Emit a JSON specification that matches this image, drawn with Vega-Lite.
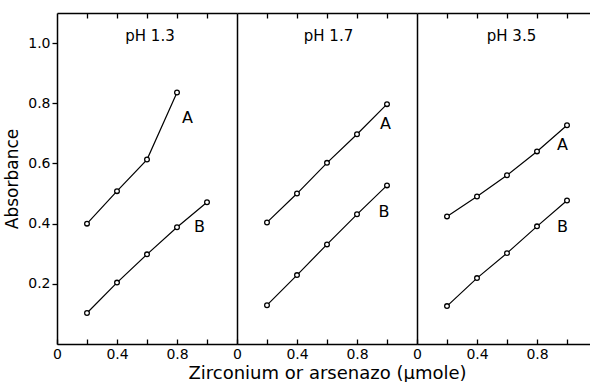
{
  "$schema": "https://vega.github.io/schema/vega-lite/v6.json",
  "background": "white",
  "padding": {"left": 3, "top": 12, "right": 0, "bottom": 0},
  "autosize": {"type": "pad"},
  "spacing": 0,
  "bounds": "flush",
  "resolve": {"scale": {"x": "independent", "y": "independent"}},
  "config": {
    "view": {"stroke": null},
    "font": "DejaVu Sans",
    "axis": {"domainColor": "black", "domainWidth": 1.5, "tickColor": "black", "tickWidth": 1.3, "labelColor": "black", "titleColor": "black", "labelFontSize": 14, "titleFontSize": 18, "titleFontWeight": "normal", "grid": false, "labelFlush": false, "labelOverlap": false, "labelBound": false}
  },
  "datasets": {
    "pts": [
      {"panel": "pH 1.3", "series": "A", "x": 0.2, "y": 0.40},
      {"panel": "pH 1.3", "series": "A", "x": 0.4, "y": 0.508},
      {"panel": "pH 1.3", "series": "A", "x": 0.6, "y": 0.613},
      {"panel": "pH 1.3", "series": "A", "x": 0.8, "y": 0.836},
      {"panel": "pH 1.3", "series": "B", "x": 0.2, "y": 0.103},
      {"panel": "pH 1.3", "series": "B", "x": 0.4, "y": 0.204},
      {"panel": "pH 1.3", "series": "B", "x": 0.6, "y": 0.298},
      {"panel": "pH 1.3", "series": "B", "x": 0.8, "y": 0.388},
      {"panel": "pH 1.3", "series": "B", "x": 1.0, "y": 0.471},
      {"panel": "pH 1.7", "series": "A", "x": 0.2, "y": 0.404},
      {"panel": "pH 1.7", "series": "A", "x": 0.4, "y": 0.50},
      {"panel": "pH 1.7", "series": "A", "x": 0.6, "y": 0.602},
      {"panel": "pH 1.7", "series": "A", "x": 0.8, "y": 0.697},
      {"panel": "pH 1.7", "series": "A", "x": 1.0, "y": 0.797},
      {"panel": "pH 1.7", "series": "B", "x": 0.2, "y": 0.129},
      {"panel": "pH 1.7", "series": "B", "x": 0.4, "y": 0.229},
      {"panel": "pH 1.7", "series": "B", "x": 0.6, "y": 0.331},
      {"panel": "pH 1.7", "series": "B", "x": 0.8, "y": 0.431},
      {"panel": "pH 1.7", "series": "B", "x": 1.0, "y": 0.527},
      {"panel": "pH 3.5", "series": "A", "x": 0.2, "y": 0.424},
      {"panel": "pH 3.5", "series": "A", "x": 0.4, "y": 0.49},
      {"panel": "pH 3.5", "series": "A", "x": 0.6, "y": 0.561},
      {"panel": "pH 3.5", "series": "A", "x": 0.8, "y": 0.64},
      {"panel": "pH 3.5", "series": "A", "x": 1.0, "y": 0.727},
      {"panel": "pH 3.5", "series": "B", "x": 0.2, "y": 0.126},
      {"panel": "pH 3.5", "series": "B", "x": 0.4, "y": 0.219},
      {"panel": "pH 3.5", "series": "B", "x": 0.6, "y": 0.302},
      {"panel": "pH 3.5", "series": "B", "x": 0.8, "y": 0.391},
      {"panel": "pH 3.5", "series": "B", "x": 1.0, "y": 0.477}
    ],
    "labs": [
      {"panel": "pH 1.3", "text": "A", "x": 0.87, "y": 0.75},
      {"panel": "pH 1.3", "text": "B", "x": 0.95, "y": 0.39},
      {"panel": "pH 1.7", "text": "A", "x": 0.99, "y": 0.73},
      {"panel": "pH 1.7", "text": "B", "x": 0.98, "y": 0.44},
      {"panel": "pH 3.5", "text": "A", "x": 0.97, "y": 0.66},
      {"panel": "pH 3.5", "text": "B", "x": 0.97, "y": 0.39}
    ],
    "titles": [
      {"panel": "pH 1.3", "text": "pH 1.3", "x": 0.62, "y": 1.025},
      {"panel": "pH 1.7", "text": "pH 1.7", "x": 0.61, "y": 1.025},
      {"panel": "pH 3.5", "text": "pH 3.5", "x": 0.63, "y": 1.025}
    ]
  },
  "hconcat": [
    {
      "width": 180, "height": 331,
      "resolve": {"axis": {"x": "independent"}},
      "layer": [
        {
          "data": {"name": "pts"},
          "transform": [{"filter": "datum.panel == 'pH 1.3'"}],
          "mark": {"type": "line", "color": "black", "strokeWidth": 1.2},
          "encoding": {
            "x": {"field": "x", "type": "quantitative", "scale": {"domain": [0, 1.2], "nice": false, "zero": false},
                  "axis": {"orient": "bottom", "values": [0, 0.2, 0.4, 0.6, 0.8, 1.0], "tickSize": -5, "labelPadding": 8, "format": "~g", "labelExpr": "round(datum.value*10) % 4 == 0 ? datum.label : ''", "title": null}},
            "y": {"field": "y", "type": "quantitative", "scale": {"domain": [0, 1.1], "nice": false},
                  "axis": {"orient": "left", "values": [0.2, 0.4, 0.6, 0.8, 1.0], "format": ".1f", "tickSize": 5, "labelPadding": 2, "title": "Absorbance", "titleFontSize": 17, "titlePadding": 6}},
            "detail": {"field": "series"}
          }
        },
        {
          "data": {"name": "pts"},
          "transform": [{"filter": "datum.panel == 'pH 1.3'"}],
          "mark": {"type": "point", "shape": "circle", "filled": true, "fill": "white", "stroke": "black", "strokeWidth": 1.3, "size": 22, "opacity": 1},
          "encoding": {
            "x": {"field": "x", "type": "quantitative", "axis": {"orient": "top", "values": [0.2, 0.4, 0.6, 0.8, 1.0], "tickSize": -5, "labels": false, "title": null}},
            "y": {"field": "y", "type": "quantitative"}
          }
        },
        {
          "data": {"name": "labs"},
          "transform": [{"filter": "datum.panel == 'pH 1.3'"}],
          "mark": {"type": "text", "fontSize": 16, "color": "black"},
          "encoding": {"x": {"field": "x", "type": "quantitative", "axis": null}, "y": {"field": "y", "type": "quantitative"}, "text": {"field": "text"}}
        },
        {
          "data": {"name": "titles"},
          "transform": [{"filter": "datum.panel == 'pH 1.3'"}],
          "mark": {"type": "text", "fontSize": 15, "color": "black"},
          "encoding": {"x": {"field": "x", "type": "quantitative", "axis": null}, "y": {"field": "y", "type": "quantitative"}, "text": {"field": "text"}}
        }
      ]
    },
    {
      "width": 180, "height": 331,
      "resolve": {"axis": {"x": "independent"}},
      "layer": [
        {
          "data": {"name": "pts"},
          "transform": [{"filter": "datum.panel == 'pH 1.7'"}],
          "mark": {"type": "line", "color": "black", "strokeWidth": 1.2},
          "encoding": {
            "x": {"field": "x", "type": "quantitative", "scale": {"domain": [0, 1.2], "nice": false, "zero": false},
                  "axis": {"orient": "bottom", "values": [0, 0.2, 0.4, 0.6, 0.8, 1.0], "tickSize": -5, "labelPadding": 8, "format": "~g", "labelExpr": "round(datum.value*10) % 4 == 0 ? datum.label : ''", "title": "Zirconium  or arsenazo (µmole)", "titlePadding": 3}},
            "y": {"field": "y", "type": "quantitative", "scale": {"domain": [0, 1.1], "nice": false},
                  "axis": {"orient": "left", "ticks": false, "labels": false, "title": null}},
            "detail": {"field": "series"}
          }
        },
        {
          "data": {"name": "pts"},
          "transform": [{"filter": "datum.panel == 'pH 1.7'"}],
          "mark": {"type": "point", "shape": "circle", "filled": true, "fill": "white", "stroke": "black", "strokeWidth": 1.3, "size": 22, "opacity": 1},
          "encoding": {
            "x": {"field": "x", "type": "quantitative", "axis": {"orient": "top", "values": [0.2, 0.4, 0.6, 0.8, 1.0], "tickSize": -5, "labels": false, "title": null}},
            "y": {"field": "y", "type": "quantitative"}
          }
        },
        {
          "data": {"name": "labs"},
          "transform": [{"filter": "datum.panel == 'pH 1.7'"}],
          "mark": {"type": "text", "fontSize": 16, "color": "black"},
          "encoding": {"x": {"field": "x", "type": "quantitative", "axis": null}, "y": {"field": "y", "type": "quantitative"}, "text": {"field": "text"}}
        },
        {
          "data": {"name": "titles"},
          "transform": [{"filter": "datum.panel == 'pH 1.7'"}],
          "mark": {"type": "text", "fontSize": 15, "color": "black"},
          "encoding": {"x": {"field": "x", "type": "quantitative", "axis": null}, "y": {"field": "y", "type": "quantitative"}, "text": {"field": "text"}}
        }
      ]
    },
    {
      "width": 173, "height": 331,
      "resolve": {"axis": {"x": "independent"}},
      "layer": [
        {
          "data": {"name": "pts"},
          "transform": [{"filter": "datum.panel == 'pH 3.5'"}],
          "mark": {"type": "line", "color": "black", "strokeWidth": 1.2},
          "encoding": {
            "x": {"field": "x", "type": "quantitative", "scale": {"domain": [0, 1.1533], "nice": false, "zero": false},
                  "axis": {"orient": "bottom", "values": [0, 0.2, 0.4, 0.6, 0.8, 1.0], "tickSize": -5, "labelPadding": 8, "format": "~g", "labelExpr": "round(datum.value*10) % 4 == 0 ? datum.label : ''", "title": null}},
            "y": {"field": "y", "type": "quantitative", "scale": {"domain": [0, 1.1], "nice": false},
                  "axis": {"orient": "left", "ticks": false, "labels": false, "title": null}},
            "detail": {"field": "series"}
          }
        },
        {
          "data": {"name": "pts"},
          "transform": [{"filter": "datum.panel == 'pH 3.5'"}],
          "mark": {"type": "point", "shape": "circle", "filled": true, "fill": "white", "stroke": "black", "strokeWidth": 1.3, "size": 22, "opacity": 1},
          "encoding": {
            "x": {"field": "x", "type": "quantitative", "axis": {"orient": "top", "values": [0.2, 0.4, 0.6, 0.8, 1.0], "tickSize": -5, "labels": false, "title": null}},
            "y": {"field": "y", "type": "quantitative"}
          }
        },
        {
          "data": {"name": "labs"},
          "transform": [{"filter": "datum.panel == 'pH 3.5'"}],
          "mark": {"type": "text", "fontSize": 16, "color": "black"},
          "encoding": {"x": {"field": "x", "type": "quantitative", "axis": null}, "y": {"field": "y", "type": "quantitative"}, "text": {"field": "text"}}
        },
        {
          "data": {"name": "titles"},
          "transform": [{"filter": "datum.panel == 'pH 3.5'"}],
          "mark": {"type": "text", "fontSize": 15, "color": "black"},
          "encoding": {"x": {"field": "x", "type": "quantitative", "axis": null}, "y": {"field": "y", "type": "quantitative"}, "text": {"field": "text"}}
        }
      ]
    }
  ]
}
